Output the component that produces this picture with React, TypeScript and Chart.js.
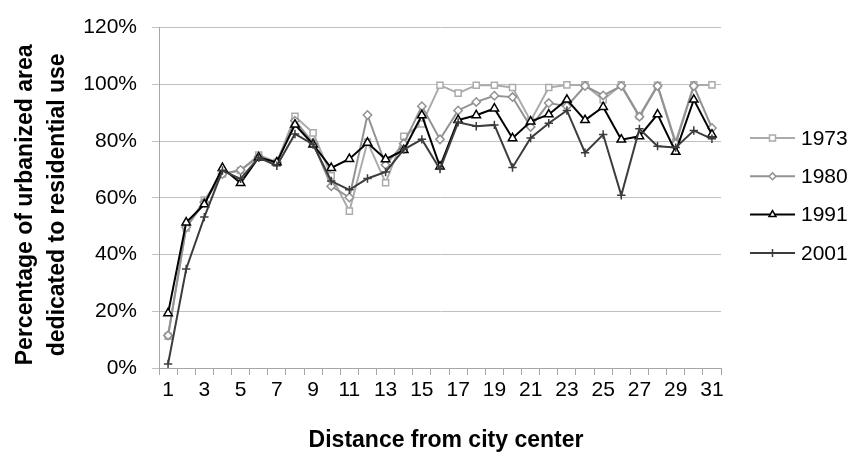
import React, { useEffect, useRef } from 'react';
import { Chart, registerables } from 'chart.js';

Chart.register(...registerables);

const distances = ['1','2','3','4','5','6','7','8','9','10','11','12','13','14','15','16','17','18','19','20','21','22','23','24','25','26','27','28','29','30','31'];

const yTickValues = [0, 20, 40, 60, 80, 100, 120];

const seriesLabels = ['1973', '1980', '1991', '2001'];

const values1973 = [11.2, 49.4, 59.2, 68.4, 69.6, 75.1, 72.5, 88.7, 82.9, 67.8, 55.3, 79.7, 65.3, 81.7, 86.0, 99.7, 96.9, 99.7, 99.7, 98.9, 87.1, 98.9, 99.8, 99.8, 94.6, 99.8, 88.9, 99.7, 79.7, 99.8, 99.8];
const values1980 = [11.5, 49.6, 58.4, 68.4, 69.8, 74.5, 72.5, 87.2, 79.4, 64.1, 60.1, 89.2, 71.6, 79.1, 92.3, 80.6, 90.8, 93.8, 96.0, 95.5, 85.0, 93.4, 92.3, 99.4, 96.1, 99.4, 88.6, 99.4, 79.1, 99.4, 84.6];
const values1991 = [19.3, 51.3, 57.7, 70.5, 65.2, 74.2, 72.5, 85.8, 78.8, 70.5, 73.7, 79.4, 73.6, 76.8, 89.1, 71.0, 87.4, 89.1, 91.5, 81.0, 86.9, 89.4, 94.6, 87.4, 92.0, 80.5, 81.7, 89.4, 76.2, 94.6, 82.3];
const values2001 = [1.4, 34.9, 53.2, 69.6, 66.7, 74.2, 71.3, 82.5, 78.8, 65.9, 62.8, 66.8, 69.1, 77.0, 80.6, 70.1, 86.6, 85.2, 85.7, 70.7, 81.1, 86.3, 90.8, 75.9, 82.3, 60.9, 84.3, 78.2, 77.7, 83.7, 80.8];

const xTitle = 'Distance from city center';
const yTitle = ['Percentage of urbanized area', 'dedicated to residential use'];

const FONT = "'Liberation Sans', Arial, Helvetica, sans-serif";

const styles = [
  { line: '#ababab', marker: 'rect', radius: 4.3, legendSize: 3.0 },
  { line: '#929292', marker: 'rectRot', radius: 4.2, legendSize: 3.4 },
  { line: '#000000', marker: 'triangle', radius: 4.9, legendSize: 4.0 },
  { line: '#3c3c3c', marker: 'cross', radius: 4.2, legendSize: 4.0 },
];

function drawMarker(ctx: CanvasRenderingContext2D, kind: string, x: number, y: number, s: number, color: string) {
  ctx.save();
  ctx.strokeStyle = color;
  ctx.fillStyle = '#ffffff';
  ctx.lineWidth = 1.5;
  ctx.beginPath();
  if (kind === 'rect') {
    ctx.rect(x - s, y - s, 2 * s, 2 * s);
    ctx.fill();
    ctx.stroke();
  } else if (kind === 'rectRot') {
    ctx.moveTo(x, y - s);
    ctx.lineTo(x + s, y);
    ctx.lineTo(x, y + s);
    ctx.lineTo(x - s, y);
    ctx.closePath();
    ctx.fill();
    ctx.stroke();
  } else if (kind === 'triangle') {
    ctx.moveTo(x, y - s);
    ctx.lineTo(x + s * 0.87, y + s * 0.5);
    ctx.lineTo(x - s * 0.87, y + s * 0.5);
    ctx.closePath();
    ctx.fill();
    ctx.stroke();
  } else {
    ctx.moveTo(x, y - s);
    ctx.lineTo(x, y + s);
    ctx.moveTo(x - s, y);
    ctx.lineTo(x + s, y);
    ctx.stroke();
  }
  ctx.restore();
}

export default function App() {
  const ref = useRef<HTMLCanvasElement | null>(null);

  useEffect(() => {
    document.body.style.margin = '0';
    const canvas = ref.current;
    if (!canvas) return;

    const sideLegend = {
      id: 'sideLegend',
      afterDraw(chart: any) {
        const ctx = chart.ctx as CanvasRenderingContext2D;
        const area = chart.chartArea;
        const x0 = area.right + 29;
        const x1 = x0 + 45;
        const startY = 138;
        const step = 38.3;
        chart.data.datasets.forEach((ds: any, i: number) => {
          const st = styles[i];
          const y = startY + i * step;
          ctx.save();
          ctx.strokeStyle = st.line;
          ctx.lineWidth = 2;
          ctx.beginPath();
          ctx.moveTo(x0, y);
          ctx.lineTo(x1, y);
          ctx.stroke();
          ctx.restore();
          drawMarker(ctx, st.marker, (x0 + x1) / 2, y, st.legendSize, st.line);
          ctx.save();
          ctx.fillStyle = '#000000';
          ctx.font = `21px ${FONT}`;
          ctx.textBaseline = 'middle';
          ctx.textAlign = 'left';
          ctx.fillText(ds.label, x1 + 6, y + 1);
          ctx.restore();
        });
      },
    };

    const axisTitles = {
      id: 'axisTitles',
      afterDraw(chart: any) {
        const ctx = chart.ctx as CanvasRenderingContext2D;
        const area = chart.chartArea;
        ctx.save();
        ctx.fillStyle = '#000000';
        ctx.font = `bold 23px ${FONT}`;
        ctx.textAlign = 'center';
        ctx.textBaseline = 'middle';
        ctx.fillText(xTitle, (area.left + area.right) / 2 + 6, area.bottom + 73);
        const cy = (area.top + area.bottom) / 2 + 7;
        const xs = [25.5, 57.5];
        yTitle.forEach((line, i) => {
          ctx.save();
          ctx.translate(xs[i], cy);
          ctx.rotate(-Math.PI / 2);
          ctx.fillText(line, 0, 0);
          ctx.restore();
        });
        ctx.restore();
      },
    };

    const seriesValues = [values1973, values1980, values1991, values2001];

    const chart = new Chart(canvas, {
      type: 'line',
      data: {
        labels: distances,
        datasets: seriesLabels.map((label, i) => ({
          label,
          data: seriesValues[i],
          borderColor: styles[i].line,
          backgroundColor: '#ffffff',
          borderWidth: 2,
          pointStyle: styles[i].marker as any,
          pointRadius: styles[i].radius,
          pointBorderWidth: 1.5,
          pointBorderColor: styles[i].line,
          pointBackgroundColor: '#ffffff',
          tension: 0,
          fill: false,
          order: 3 - i,
        })),
      },
      options: {
        responsive: false,
        animation: false,
        events: [],
        layout: { padding: { left: 0, top: 22, right: 133, bottom: 0 } },
        plugins: {
          legend: { display: false },
          tooltip: { enabled: false },
          title: { display: false },
        },
        scales: {
          x: {
            type: 'category',
            offset: true,
            afterFit: (scale: any) => {
              scale.height = 87;
            },
            grid: {
              display: true,
              drawOnChartArea: false,
              drawTicks: true,
              tickLength: 7,
              offset: true,
              color: '#a6a6a6',
              lineWidth: 1,
            },
            border: { display: true, color: '#a6a6a6', width: 1 },
            ticks: {
              autoSkip: false,
              maxRotation: 0,
              minRotation: 0,
              padding: 3,
              color: '#000000',
              font: { family: FONT, size: 21 },
              callback: (_v: any, idx: number) => (idx % 2 === 0 ? distances[idx] : ''),
            },
            title: { display: false, text: xTitle },
          },
          y: {
            min: yTickValues[0],
            max: yTickValues[yTickValues.length - 1],
            afterBuildTicks: (scale: any) => {
              scale.ticks = yTickValues.map((v) => ({ value: v }));
            },
            afterFit: (scale: any) => {
              scale.width = 159;
            },
            grid: {
              display: true,
              drawTicks: true,
              tickLength: 7,
              color: '#c0c0c0',
              lineWidth: 1,
            },
            border: { display: true, color: '#a6a6a6', width: 1 },
            ticks: {
              padding: 15,
              color: '#000000',
              font: { family: FONT, size: 21 },
              callback: (v: any) => `${v}%`,
            },
            title: { display: false, text: yTitle },
          },
        },
      },
      plugins: [sideLegend, axisTitles],
    });

    return () => {
      chart.destroy();
    };
  }, []);

  return (
    <div style={{ width: 854, height: 455, background: '#ffffff' }}>
      <canvas ref={ref} width={854} height={455} style={{ display: 'block', width: 854, height: 455 }} />
    </div>
  );
}
